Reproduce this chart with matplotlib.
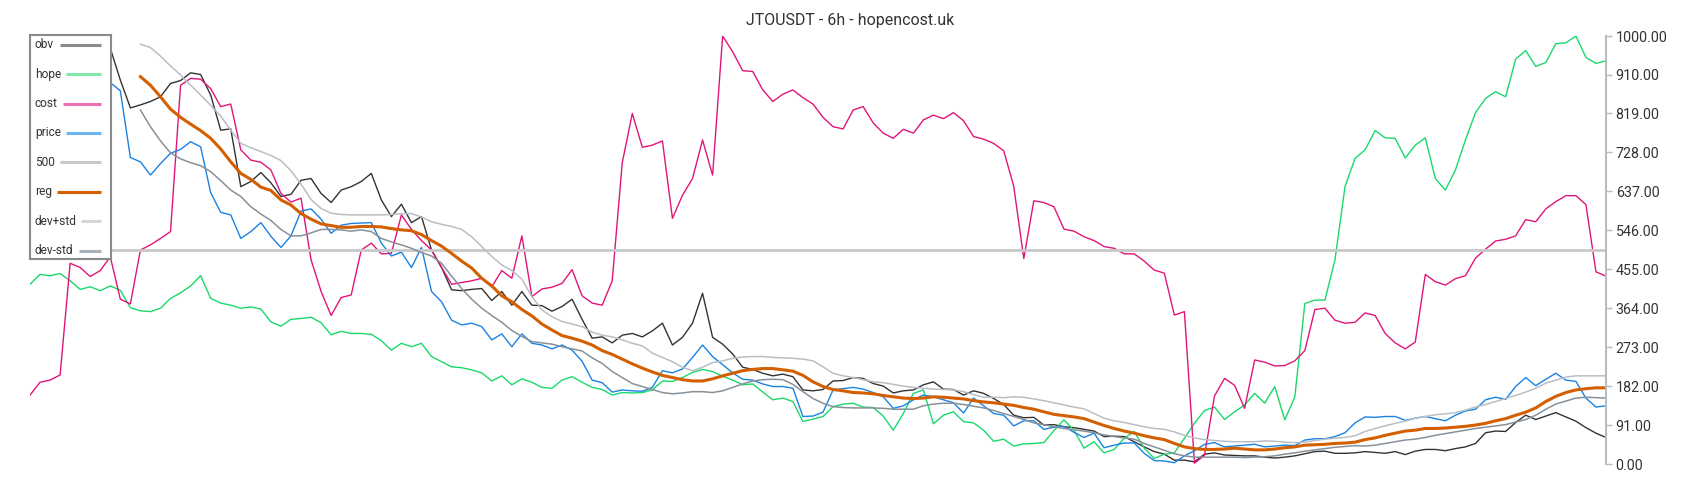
import numpy as np
import matplotlib.pyplot as plt

nan = np.nan

title = "JTOUSDT - 6h - hopencost.uk"
level_500 = 500
y_ticks = [0, 91, 182, 273, 364, 455, 546, 637, 728, 819, 910, 1000]

obv = [985, 995, 1000, 990, 975, 980, 990, 975, 971, 897,
       832, 839, 847, 858, 889, 896, 914, 910, 862, 780,
       783, 648, 660, 681, 657, 625, 630, 663, 667, 632,
       611, 640, 648, 660, 679, 617, 578, 607, 564, 578,
       500, 459, 407, 405, 408, 410, 382, 403, 371, 403,
       371, 370, 357, 368, 385, 338, 294, 297, 283, 301,
       305, 297, 311, 329, 278, 296, 329, 399, 296, 280,
       257, 226, 221, 212, 206, 210, 204, 173, 171, 174,
       194, 195, 202, 200, 188, 182, 166, 171, 173, 185,
       192, 175, 174, 161, 171, 165, 153, 139, 114, 108,
       109, 91, 92, 87, 85, 81, 77, 64, 65, 64,
       52, 40, 29, 23, 9, 9, 5, 23, 26, 21,
       20, 19, 19, 16, 14, 16, 19, 24, 29, 30,
       25, 25, 26, 29, 27, 25, 29, 22, 30, 34,
       34, 31, 36, 40, 48, 73, 77, 76, 97, 114,
       104, 112, 120, 110, 100, 85, 72, 62]

hope = [420, 443, 440, 445, 428, 408, 414, 405, 416, 406,
        365, 358, 356, 364, 387, 400, 416, 440, 387, 376,
        371, 364, 367, 362, 332, 322, 338, 340, 343, 330,
        302, 310, 305, 305, 303, 288, 266, 282, 274, 282,
        251, 239, 227, 225, 220, 213, 194, 206, 185, 199,
        191, 179, 177, 196, 204, 191, 179, 174, 161, 167,
        166, 167, 173, 194, 193, 202, 214, 221, 216, 205,
        196, 185, 187, 168, 150, 154, 146, 99, 105, 111,
        134, 140, 142, 133, 132, 112, 79, 118, 165, 173,
        94, 114, 122, 99, 96, 79, 53, 58, 42, 47,
        48, 50, 78, 103, 79, 37, 52, 26, 34, 60,
        76, 37, 13, 23, 26, 60, 95, 125, 133, 104,
        122, 138, 165, 142, 181, 103, 157, 375, 383, 383,
        477, 648, 714, 734, 779, 762, 761, 715, 745, 762,
        667, 640, 687, 757, 821, 854, 870, 858, 946, 966,
        929, 938, 982, 984, 1000, 950, 936, 942]

cost = [161, 191, 196, 208, 469, 459, 438, 452, 484, 385,
        374, 500, 512, 527, 543, 885, 901, 899, 877, 835,
        841, 734, 710, 705, 687, 632, 612, 621, 477, 403,
        347, 389, 395, 500, 516, 491, 492, 582, 548, 522,
        500, 459, 420, 424, 428, 434, 414, 452, 434, 533,
        391, 409, 413, 422, 454, 393, 376, 371, 428, 704,
        819, 740, 745, 755, 574, 628, 667, 757, 675, 1000,
        963, 919, 917, 874, 847, 864, 874, 856, 841, 810,
        788, 783, 827, 835, 797, 773, 761, 782, 773, 804,
        815, 807, 821, 802, 765, 759, 749, 732, 649, 480,
        615, 611, 601, 549, 544, 531, 522, 508, 504, 491,
        491, 474, 453, 446, 348, 356, 2, 20, 159, 200,
        184, 130, 243, 238, 229, 230, 241, 265, 361, 364,
        336, 329, 331, 353, 347, 305, 283, 269, 285, 443,
        426, 418, 433, 440, 481, 502, 521, 525, 533, 571,
        566, 596, 613, 627, 627, 606, 449, 439]

price = [880, 900, 915, 905, 890, 900, 905, 895, 891, 872,
         716, 706, 675, 702, 726, 735, 753, 741, 634, 588,
         582, 527, 543, 564, 532, 506, 533, 591, 596, 572,
         539, 558, 562, 563, 564, 516, 486, 495, 459, 506,
         403, 379, 336, 325, 329, 321, 290, 304, 274, 304,
         282, 278, 269, 278, 266, 240, 196, 190, 168, 173,
         171, 170, 179, 218, 213, 222, 249, 278, 251, 232,
         213, 198, 196, 187, 181, 181, 177, 111, 112, 121,
         173, 176, 179, 175, 167, 157, 130, 136, 150, 161,
         157, 150, 143, 119, 154, 136, 118, 114, 89, 101,
         101, 81, 86, 88, 74, 62, 72, 38, 44, 49,
         49, 25, 8, 7, 3, 19, 31, 46, 50, 40,
         42, 44, 46, 40, 42, 44, 43, 56, 59, 59,
         64, 73, 96, 110, 109, 111, 111, 102, 107, 111,
         106, 101, 114, 124, 128, 150, 156, 151, 181, 202,
         183, 198, 212, 196, 193, 154, 133, 136]

reg = [nan, nan, nan, nan, nan, nan, nan, nan, nan, nan,
       nan, 905, 885, 858, 829, 810, 794, 779, 761, 736,
       706, 679, 665, 647, 639, 617, 605, 585, 572, 561,
       557, 553, 553, 555, 555, 554, 550, 547, 545, 536,
       522, 509, 492, 474, 458, 434, 416, 393, 379, 361,
       346, 327, 313, 300, 294, 287, 278, 265, 256, 245,
       234, 224, 215, 207, 202, 197, 194, 194, 199, 206,
       212, 218, 221, 223, 223, 220, 217, 207, 192, 181,
       174, 171, 167, 166, 164, 160, 157, 154, 153, 154,
       157, 156, 154, 152, 148, 145, 143, 140, 137, 132,
       128, 122, 116, 113, 110, 106, 98, 90, 83, 77,
       72, 66, 61, 57, 48, 40, 36, 34, 34, 35,
       37, 35, 33, 33, 35, 38, 40, 44, 45, 46,
       48, 49, 51, 57, 61, 67, 72, 77, 79, 83,
       83, 84, 86, 88, 91, 95, 101, 106, 114, 121,
       131, 146, 158, 167, 173, 176, 178, 178]

dev_hi = [nan, nan, nan, nan, nan, nan, nan, nan, nan, nan,
          nan, 981, 973, 953, 930, 909, 885, 862, 838, 813,
          780, 749, 739, 730, 721, 709, 685, 654, 618, 597,
          586, 583, 582, 582, 582, 582, 583, 585, 585, 577,
          566, 560, 555, 548, 531, 508, 485, 465, 452, 432,
          391, 360, 344, 333, 327, 321, 308, 301, 297, 290,
          282, 276, 259, 249, 239, 226, 218, 226, 237, 241,
          247, 250, 251, 251, 249, 248, 247, 245, 241, 227,
          212, 206, 202, 197, 192, 190, 186, 182, 179, 177,
          175, 174, 173, 169, 162, 156, 156, 155, 157, 156,
          152, 148, 143, 138, 133, 129, 118, 107, 101, 97,
          92, 87, 83, 81, 75, 67, 61, 57, 55, 53,
          52, 52, 52, 54, 53, 51, 50, 51, 55, 58,
          60, 62, 66, 76, 83, 89, 95, 100, 107, 111,
          115, 117, 120, 126, 133, 139, 146, 153, 160, 168,
          177, 189, 196, 203, 206, 206, 206, 206]

dev_lo = [nan, nan, nan, nan, nan, nan, nan, nan, nan, nan,
          nan, 827, 788, 755, 727, 713, 704, 697, 683, 662,
          640, 625, 601, 584, 569, 548, 533, 533, 540, 548,
          548, 547, 544, 547, 543, 527, 519, 512, 504, 494,
          486, 469, 439, 410, 385, 364, 347, 331, 312, 298,
          286, 283, 280, 274, 269, 264, 248, 235, 216, 202,
          188, 181, 174, 167, 164, 166, 169, 169, 167, 171,
          179, 187, 194, 197, 198, 197, 186, 169, 153, 142,
          134, 132, 131, 131, 131, 130, 128, 128, 128, 136,
          140, 142, 142, 139, 135, 131, 125, 118, 111, 104,
          96, 92, 87, 83, 80, 77, 73, 68, 64, 61,
          58, 48, 40, 32, 24, 19, 16, 16, 16, 16,
          16, 15, 16, 17, 19, 23, 26, 30, 33, 36,
          39, 41, 43, 42, 44, 48, 52, 56, 58, 62,
          67, 71, 75, 79, 83, 86, 89, 92, 98, 104,
          114, 128, 140, 147, 154, 156, 155, 154]

plt.rcParams['font.family'] = ['Roboto', 'DejaVu Sans']

x = np.arange(len(obv))
line_500 = [level_500] * len(obv)

# name, data, line colour, width, legend swatch colour, swatch start (px)
series = [
    ("obv", obv, "#333333", 1.0, "#8c8c8c", 60),
    ("hope", hope, "#19d96b", 1.0, "#80e8aa", 66),
    ("cost", cost, "#e0157a", 1.0, "#ee70b2", 63.3),
    ("price", price, "#1a82e2", 1.0, "#70b4ef", 66),
    ("500", line_500, "#c8c8c8", 2.0, "#c8c8c8", 60),
    ("reg", reg, "#d45f00", 2.2, "#d45f00", 57.3),
    ("dev+std", dev_hi, "#b8bfc6", 1.1, "#d3d7db", 81.3),
    ("dev-std", dev_lo, "#87919a", 1.1, "#aab1b7", 79),
]

fig = plt.figure(figsize=(17, 5), dpi=100)
ax = fig.add_axes([30 / 1700, 36 / 500, 1576 / 1700, 428 / 500])

for name, data, color, lw, _, _ in series:
    ax.plot(x, np.array(data, dtype=float), color=color, lw=lw)

ax.set_xlim(0, len(obv) - 1)
ax.set_ylim(0, 1000)
ax.set_xticks([])
for s in ["left", "top", "bottom"]:
    ax.spines[s].set_visible(False)
ax.spines["right"].set_color("#b4bcc4")
ax.spines["right"].set_linewidth(1.5)
ax.yaxis.tick_right()
ax.set_yticks(y_ticks)
ax.set_yticklabels([f"{v:.2f}" for v in y_ticks])
ax.tick_params(axis="y", direction="out", length=4, width=1, color="#b4bcc4",
               labelcolor="#333333", labelsize=10.3, pad=3)

fig.text(0.5, 1 - 20 / 500, title, ha="center", va="center",
         fontsize=11.5, color="#333333")

# legend box drawn by hand: label first, swatch filling to the right edge
lax = fig.add_axes([30 / 1700, 1 - 259 / 500, 80.7 / 1700, 224 / 500])
lax.set_xlim(30, 110.7)
lax.set_ylim(259, 35)
lax.set_xticks([])
lax.set_yticks([])
lax.set_facecolor("white")
for s in lax.spines.values():
    s.set_color("#8a8a8a")
    s.set_linewidth(1.5)

for k, (name, _, _, _, sw, x0) in enumerate(series):
    yy = 44.7 + 29.43 * k
    lax.text(35, yy, name, ha="left", va="center", fontsize=8.6, color="#333333")
    lax.plot([x0, 100.7], [yy, yy], color=sw, lw=2.2, solid_capstyle="butt")

fig.savefig("out.png", dpi=100)
